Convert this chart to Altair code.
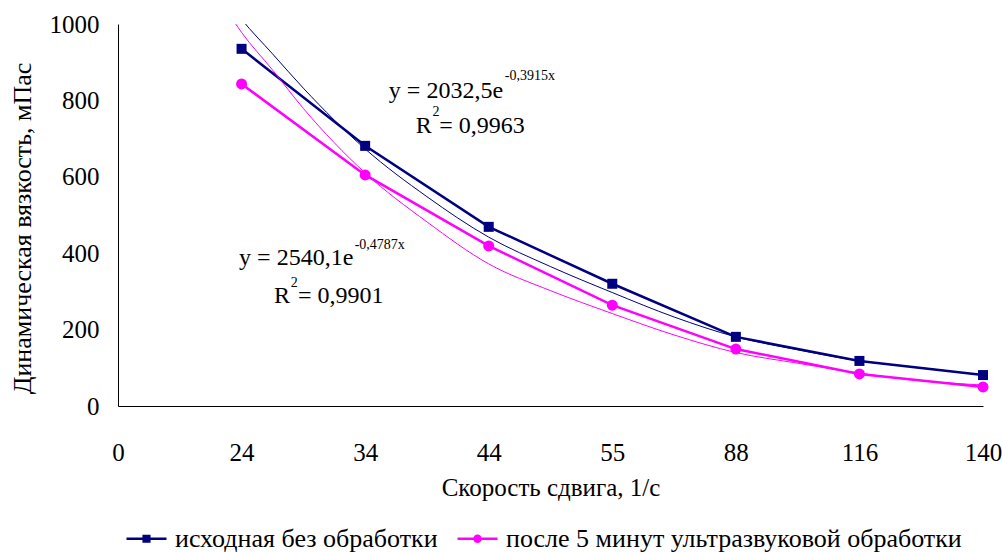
import altair as alt
import pandas as pd

# ---------------- data ----------------
categories = ["0", "24", "34", "44", "55", "88", "116", "140"]
series_names = ["исходная без обработки", "после 5 минут ультразвуковой обработки"]
series_colors = ["#000080", "#FF00FF"]

point_positions = [1, 2, 3, 4, 5, 6, 7]
base_values = [935, 681, 469, 320, 181, 118, 81]
us_values = [843, 605, 419, 264, 149, 84, 50]

trend_positions = [0.95, 1, 1.25, 1.5, 2, 2.5, 3, 3.5, 4, 4.5, 5, 5.5, 6, 6.5, 7]
base_trend = [1032, 1012, 922, 832, 673, 548, 442, 365, 297, 233, 181, 147, 118, 100, 81]
us_trend = [1001, 978, 880, 779, 610, 482, 372, 302, 242, 186, 140, 112, 86, 66, 55]

# annotation texts (equation labels)
ann_big_right_text = ["y = 2032,5e", "R", "y = 2540,1e", "R"]
ann_big_right_pos = [3.116, 2.54, 1.904, 1.392]
ann_big_right_val = [805, 715, 369, 270]

ann_big_left_text = ["= 0,9963", "= 0,9901"]
ann_big_left_pos = [2.60, 1.456]
ann_big_left_val = [715, 270]

ann_small_text = ["-0,3915x", "2", "-0,4787x", "2"]
ann_small_pos = [3.13, 2.545, 1.915, 1.397]
ann_small_val = [853, 760, 411, 312]

FONT = "Liberation Serif"

# ---------------- scales / axes ----------------
label_expr = "[" + ",".join("'%s'" % c for c in categories) + "][datum.value]"
xscale = alt.Scale(domain=[0, len(categories) - 1], nice=False, zero=True)
yscale = alt.Scale(domain=[0, 1000], nice=False)

xaxis = alt.Axis(
    values=list(range(len(categories))), labelExpr=label_expr,
    title="Скорость сдвига, 1/с", grid=False, ticks=False, tickSize=0,
    domainColor="black", domainWidth=1, labelFlush=False, labelOverlap=False,
    labelFont=FONT, labelFontSize=25, labelColor="black",
    labelBaseline="alphabetic", labelPadding=54,
    titleFont=FONT, titleFontSize=25, titleColor="black", titleFontWeight="normal",
    titleBaseline="alphabetic", titleY=89,
)
yaxis = alt.Axis(
    values=[0, 200, 400, 600, 800, 1000], format="d", title="Динамическая вязкость, мПас",
    grid=False, ticks=False, tickSize=0, domainColor="black", domainWidth=1,
    labelFont=FONT, labelFontSize=25, labelColor="black", labelPadding=19,
    labelFlush=False, labelOverlap=False,
    titleFont=FONT, titleFontSize=26, titleColor="black", titleFontWeight="normal",
    titleAngle=-90, titleBaseline="middle", titleAlign="center", titleX=-96, titleY=204,
)

X = alt.X("pos:Q", scale=xscale, axis=xaxis)
Y = alt.Y("val:Q", scale=yscale, axis=yaxis)

base_df = pd.DataFrame({"pos": point_positions, "val": base_values})
us_df = pd.DataFrame({"pos": point_positions, "val": us_values})
base_tr_df = pd.DataFrame({"pos": trend_positions, "val": base_trend})
us_tr_df = pd.DataFrame({"pos": trend_positions, "val": us_trend})

base_line = alt.Chart(base_df).mark_line(color=series_colors[0], strokeWidth=2.5).encode(x=X, y=Y)
us_line = alt.Chart(us_df).mark_line(color=series_colors[1], strokeWidth=2.5).encode(x=X, y=Y)
base_tr = alt.Chart(base_tr_df).mark_line(color=series_colors[0], strokeWidth=1, interpolate="monotone", clip=True).encode(x=X, y=Y)
us_tr = alt.Chart(us_tr_df).mark_line(color=series_colors[1], strokeWidth=1, interpolate="monotone", clip=True).encode(x=X, y=Y)
base_pts = alt.Chart(base_df).mark_point(shape="square", filled=True, size=100, opacity=1, color=series_colors[0]).encode(x=X, y=Y)
us_pts = alt.Chart(us_df).mark_point(shape="circle", filled=True, size=121, opacity=1, color=series_colors[1]).encode(x=X, y=Y)

t1 = alt.Chart(pd.DataFrame({"pos": ann_big_right_pos, "val": ann_big_right_val, "t": ann_big_right_text})).mark_text(
    font=FONT, fontSize=24, align="right", baseline="alphabetic", color="black").encode(x=X, y=Y, text="t:N")
t2 = alt.Chart(pd.DataFrame({"pos": ann_big_left_pos, "val": ann_big_left_val, "t": ann_big_left_text})).mark_text(
    font=FONT, fontSize=24, align="left", baseline="alphabetic", color="black").encode(x=X, y=Y, text="t:N")
t3 = alt.Chart(pd.DataFrame({"pos": ann_small_pos, "val": ann_small_val, "t": ann_small_text})).mark_text(
    font=FONT, fontSize=14, align="left", baseline="alphabetic", color="black").encode(x=X, y=Y, text="t:N")

# legend layer (drawn outside the clipped plot, only its legend is visible)
sq_path = "M-1,0H1M-0.14,-0.14H0.14V0.14H-0.14Z"
circ_path = "M-1,0H1M0.15,0A0.15,0.15,0,1,1,-0.15,0A0.15,0.15,0,1,1,0.15,0Z"
leg = alt.Legend(
    orient="none", legendX=7, legendY=493, direction="horizontal", title=None,
    labelFont=FONT, labelFontSize=26, labelColor="black", labelOffset=7,
    symbolSize=1600, symbolStrokeWidth=2.5, symbolOpacity=1, columnPadding=14, padding=0,
    labelLimit=0,
)
legend_df = pd.DataFrame({"pos": [1, 2], "val": [-500, -500], "series": series_names})
legend_layer = alt.Chart(legend_df).mark_point(filled=True, size=1600, strokeWidth=2.5, opacity=1, clip=True).encode(
    x=X, y=Y,
    fill=alt.Fill("series:N", scale=alt.Scale(domain=series_names, range=series_colors), legend=leg, sort=series_names),
    stroke=alt.Stroke("series:N", scale=alt.Scale(domain=series_names, range=series_colors), legend=leg, sort=series_names),
    shape=alt.Shape("series:N", scale=alt.Scale(domain=series_names, range=[sq_path, circ_path]), legend=leg, sort=series_names),
)

chart = alt.layer(
    base_line, us_line, base_tr, us_tr, base_pts, us_pts, t1, t2, t3, legend_layer
).properties(
    width=865, height=382,
    autosize=alt.AutoSizeParams(type="none"),
    padding={"left": 118, "top": 24, "right": 19, "bottom": 146},
    background="white",
).configure_view(stroke=None)

chart.save("out.html", embed_options={"renderer": "svg", "actions": False})
